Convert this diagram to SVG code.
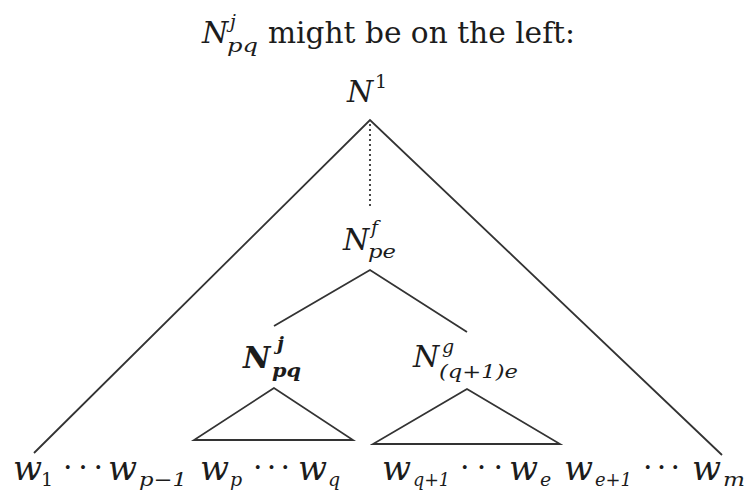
<svg xmlns="http://www.w3.org/2000/svg" width="748" height="491" viewBox="0 0 748 491">
<style>
text{font-family:"DejaVu Serif","Liberation Serif",serif;fill:#1c1c1c}
.m{font-style:italic}
.b{font-weight:bold}
.big{font-size:30px}
.w{font-size:34px;font-style:italic}
.sm{font-size:19px}
.ln{stroke:#333;stroke-width:1.8;fill:none;stroke-linejoin:miter}
</style>
<rect width="748" height="491" fill="#fff"/>
<g id="title">
<text class="m big" x="202" y="43">N</text>
<text class="m sm" x="230" y="28">j</text>
<text class="m sm" x="227" y="52" textLength="31" lengthAdjust="spacingAndGlyphs">pq</text>
<text class="big" x="268" y="43" textLength="307" lengthAdjust="spacingAndGlyphs">might be on the left:</text>
</g>
<g id="connectors">
<polyline class="ln" points="34,453 370,120 722,455"/>
<line class="ln" x1="370" y1="124" x2="370" y2="208" stroke-dasharray="2 3"/>
<polyline class="ln" points="274,326 370,270 467,332"/>
<polygon class="ln" points="274,388 194,440 353,440"/>
<polygon class="ln" points="467,389 373,444 560,444"/>
</g>
<g id="n1">
<text class="m big" x="347" y="102" font-size="32">N</text>
<text class="sm" x="375" y="88" font-size="21">1</text>
</g>
<g id="npe">
<text class="m big" x="343" y="250">N</text>
<text class="m sm" x="371" y="234">f</text>
<text class="m sm" x="368" y="258" textLength="28" lengthAdjust="spacingAndGlyphs">pe</text>
</g>
<g id="npq">
<text class="m b big" x="243" y="368">N</text>
<text class="m b sm" x="277" y="350">j</text>
<text class="m b sm" x="272" y="377" textLength="29" lengthAdjust="spacingAndGlyphs">pq</text>
</g>
<g id="nqe">
<text class="m big" x="413" y="367">N</text>
<text class="m sm" x="442" y="353">g</text>
<text class="m sm" x="439" y="378" textLength="79" lengthAdjust="spacingAndGlyphs">(q+1)e</text>
</g>
<g id="leaves">
<text class="w" x="13" y="480">w</text><text class="sm" x="41" y="486">1</text>
<text class="big" x="63" y="477" textLength="40" lengthAdjust="spacing">· · ·</text>
<text class="w" x="108" y="480">w</text><text class="m sm" x="139" y="486" textLength="48" lengthAdjust="spacingAndGlyphs">p−1</text>
<text class="w" x="200" y="480">w</text><text class="m sm" x="230" y="486">p</text>
<text class="big" x="253" y="477" textLength="37" lengthAdjust="spacing">· · ·</text>
<text class="w" x="298" y="480">w</text><text class="m sm" x="328" y="486">q</text>
<text class="w" x="382" y="480">w</text><text class="m sm" x="413" y="486" textLength="37" lengthAdjust="spacingAndGlyphs">q+1</text>
<text class="big" x="460" y="477" textLength="43" lengthAdjust="spacing">· · ·</text>
<text class="w" x="509" y="480">w</text><text class="m sm" x="540" y="486">e</text>
<text class="w" x="564" y="480">w</text><text class="m sm" x="595" y="486" textLength="37" lengthAdjust="spacingAndGlyphs">e+1</text>
<text class="big" x="643" y="477" textLength="37" lengthAdjust="spacing">· · ·</text>
<text class="w" x="692" y="480">w</text><text class="m sm" x="723" y="486" textLength="22" lengthAdjust="spacingAndGlyphs">m</text>
</g>
</svg>
